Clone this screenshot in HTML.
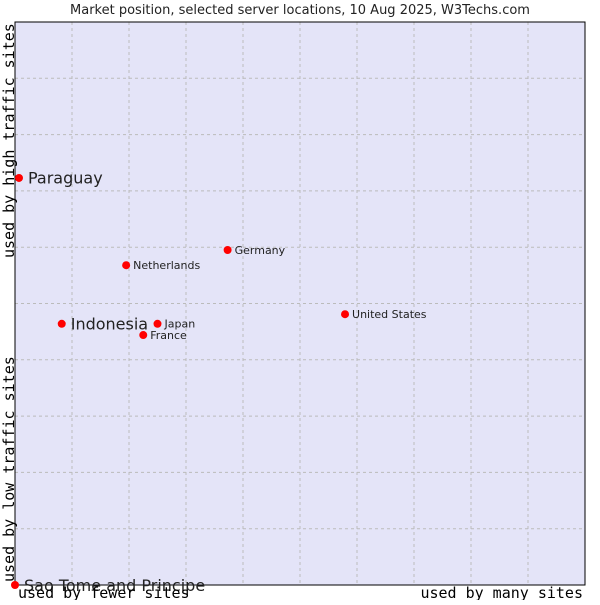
<!DOCTYPE html>
<html><head><meta charset="utf-8"><style>
body{margin:0;background:#fff;}
svg text{font-family:"DejaVu Sans","Liberation Sans",sans-serif;fill:#222;}
.mono{font-family:"DejaVu Sans Mono","Liberation Mono",monospace;fill:#000;}
</style></head><body>
<svg id="chart" width="600" height="600" xmlns="http://www.w3.org/2000/svg">
<text x="300" y="14" text-anchor="middle" font-size="13">Market position, selected server locations, 10 Aug 2025, W3Techs.com</text>
<rect x="15" y="22" width="570" height="563" fill="#e4e4f8"/>
<g id="grid"></g>
<rect x="15" y="22" width="570" height="563" fill="none" stroke="#000" stroke-width="1"/>
<g id="points"></g>
<text class="mono" font-size="15" transform="translate(14,258) rotate(-90)">used by high traffic sites</text>
<text class="mono" font-size="15" transform="translate(14,582) rotate(-90)">used by low traffic sites</text>
<text class="mono" font-size="15" x="18" y="598">used by fewer sites</text>
<text class="mono" font-size="15" x="583" y="598" text-anchor="end">used by many sites</text>
</svg>
<script>
const names=["Paraguay","Indonesia","Netherlands","Germany","Japan","France","United States","Sao Tome and Principe"];
const xVals=[0.7,8.2,19.5,37.3,25.0,22.5,57.9,0];
const yVals=[72.3,46.4,56.8,59.5,46.4,44.4,48.1,0];
const bigLabel=[true,true,false,false,false,false,false,true];
const L=15,T=22,W=570,H=563;
const sx=v=>L+v/100*W, sy=v=>T+H-v/100*H;
const NS="http://www.w3.org/2000/svg";
const g=document.getElementById('grid');
for(let i=1;i<10;i++){
  const v=document.createElementNS(NS,'line');
  v.setAttribute('x1',sx(i*10));v.setAttribute('x2',sx(i*10));v.setAttribute('y1',T);v.setAttribute('y2',T+H);
  v.setAttribute('stroke','#bbb');v.setAttribute('stroke-dasharray','3,3');
  
  
  g.appendChild(v);
  const h=document.createElementNS(NS,'line');
  h.setAttribute('y1',sy(i*10));h.setAttribute('y2',sy(i*10));h.setAttribute('x1',L);h.setAttribute('x2',L+W);
  h.setAttribute('stroke','#bbb');h.setAttribute('stroke-dasharray','3,3');
  
  
  g.appendChild(h);
}
const p=document.getElementById('points');
names.forEach((n,i)=>{
  const x=sx(xVals[i]),y=sy(yVals[i]);
  const c=document.createElementNS(NS,'circle');
  c.setAttribute('cx',x);c.setAttribute('cy',y);c.setAttribute('r',4);c.setAttribute('fill','#f00');
  
  
  p.appendChild(c);
  const t=document.createElementNS(NS,'text');
  const fs=bigLabel[i]?16:11;
  t.setAttribute('x',x+(bigLabel[i]?9:7));t.setAttribute('y',y+fs*0.36);t.setAttribute('font-size',fs);
  t.textContent=n;
  
  
  p.appendChild(t);
});
</script>
</body></html>
